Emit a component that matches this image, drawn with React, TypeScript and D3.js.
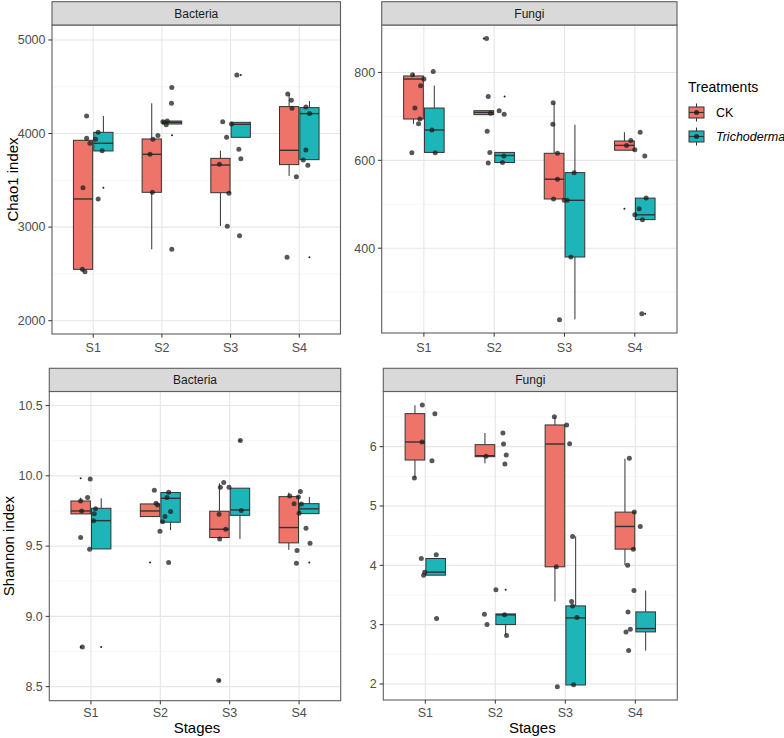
import React from 'react';
import * as d3 from 'd3';

// ---------- data ----------
const stages = ['S1', 'S2', 'S3', 'S4'];
const treatments = ['CK', 'Trichoderma'];
const treatmentFills = ['#EE746A', '#1DB5B8'];

// Box statistics per stage: [lower whisker, Q1, median, Q3, upper whisker]
const chaoBacCK = [[2524, 2549, 3301, 3928, 3928], [2763, 3372, 3778, 3942, 4323], [3012, 3368, 3664, 3735, 3817], [3547, 3668, 3821, 4288, 4420]];
const chaoBacTR = [[3814, 3814, 3896, 4013, 4188], [4102, 4102, 4120, 4134, 4134], [3960, 3960, 4099, 4120, 4120], [3721, 3721, 4213, 4277, 4348]];
const chaoBacOutCK = [[], [], [], []];
const chaoBacOutTR = [[3422], [3981], [4626], [2677]];
const chaoBacPtVal = [
  [4188, 3949, 3896, 3938, 3422, 2549, 2524, 4013, 3817, 3301],
  [3778, 3372, 3978, 3938, 4491, 4323, 4127, 4134, 4095, 2763],
  [4127, 3960, 3671, 3361, 3009, 2909, 3832, 3732, 4626, 4102],
  [4423, 4355, 4270, 3539, 2677, 4284, 4213, 3824, 3718, 3660],
];
const chaoBacPtJit = [
  [-0.096, -0.096, -0.048, 0.034, -0.149, -0.159, -0.12, 0.072, 0.13, 0.072],
  [-0.173, -0.139, -0.058, -0.13, 0.144, 0.139, 0.014, 0.077, 0.063, 0.144],
  [-0.115, -0.058, -0.163, -0.024, -0.048, 0.13, 0.12, 0.149, 0.091, 0.014],
  [-0.168, -0.115, -0.106, -0.043, -0.178, 0.096, 0.149, 0.096, 0.058, 0.125],
];

const chaoFunCK = [[683, 694, 785, 792, 797], [704, 704, 709, 713, 713], [512, 512, 557, 616, 731], [623, 623, 634, 644, 664]];
const chaoFunTR = [[618, 618, 669, 719, 770], [595, 595, 611, 618, 618], [238, 380, 509, 572, 681], [465, 465, 476, 514, 514]];
const chaoFunOutCK = [[], [877], [], [490]];
const chaoFunOutTR = [[], [745], [], [251]];
const chaoFunPtVal = [
  [795, 785, 770, 719, 694, 683, 617, 802, 669, 617],
  [877, 745, 666, 707, 713, 705, 618, 594, 610, 595],
  [731, 682, 616, 557, 512, 509, 509, 572, 380, 237],
  [645, 634, 624, 664, 610, 514, 490, 476, 465, 251],
];
const chaoFunPtJit = [
  [-0.161, 0, -0.047, -0.128, -0.057, -0.076, -0.171, 0.133, 0.114, 0.161],
  [-0.109, -0.085, -0.1, -0.052, 0.071, 0.142, -0.062, -0.085, 0.137, 0.118],
  [-0.161, -0.166, -0.1, -0.1, -0.156, -0.005, 0.038, 0.137, 0.09, -0.071],
  [-0.057, -0.118, 0, 0.076, 0.142, 0.161, 0.062, 0, 0.109, 0.1],
];

const shanBacCK = [[9.729, 9.729, 9.75, 9.821, 9.845], [9.71, 9.71, 9.75, 9.8, 9.8], [9.551, 9.561, 9.62, 9.748, 9.947], [9.473, 9.523, 9.632, 9.852, 9.881]];
const shanBacTR = [[9.48, 9.48, 9.681, 9.769, 9.84], [9.613, 9.67, 9.84, 9.881, 9.889], [9.551, 9.719, 9.757, 9.912, 9.912], [9.731, 9.731, 9.765, 9.802, 9.85]];
const shanBacOutCK = [[9.983, 8.782], [9.383], [8.543], []];
const shanBacOutTR = [[8.782], [], [10.251], [9.383]];
const shanBacPtVal = [
  [9.978, 9.845, 9.821, 9.75, 9.765, 9.731, 9.681, 9.561, 9.477, 8.782],
  [9.897, 9.805, 9.793, 9.845, 9.883, 9.746, 9.71, 9.674, 9.606, 9.383],
  [9.952, 9.919, 9.919, 9.727, 9.62, 9.551, 8.543, 10.251, 9.753],
  [9.857, 9.888, 9.85, 9.802, 9.8, 9.734, 9.627, 9.52, 9.468, 9.378],
];
const shanBacPtJit = [
  [-0.01, -0.048, -0.148, -0.134, 0.067, 0.048, 0.038, -0.148, -0.019, -0.124],
  [-0.086, -0.062, -0.038, 0.096, 0.12, 0.148, 0.067, 0.033, -0.005, 0.12],
  [-0.086, -0.134, -0.01, -0.153, -0.057, -0.144, -0.158, 0.153, 0.167],
  [-0.134, 0.019, -0.01, -0.072, 0.033, 0, 0.1, 0.158, -0.029, -0.038],
];

const shanFunCK = [[5.471, 5.775, 6.079, 6.557, 6.698], [5.719, 5.831, 5.848, 6.034, 6.231], [3.39, 3.975, 6.045, 6.366, 6.506], [4.003, 4.273, 4.655, 4.897, 5.797]];
const shanFunTR = [[3.834, 3.834, 3.885, 4.115, 4.115], [2.827, 3.001, 3.165, 3.181, 3.181], [1.983, 1.983, 3.114, 3.316, 4.487], [2.563, 2.878, 2.934, 3.215, 3.575]];
const shanFunOutCK = [[], [], [], []];
const shanFunOutTR = [[], [3.587], [], []];
const shanFunPtVal = [
  [6.703, 6.557, 6.079, 5.764, 5.471, 4.115, 4.177, 3.885, 3.834, 3.103],
  [5.837, 6.231, 6.045, 5.859, 5.707, 3.587, 3.176, 3.001, 3.165, 2.816],
  [6.506, 6.366, 6.051, 3.975, 4.487, 3.39, 3.316, 3.12, 1.989, 1.955],
  [5.803, 4.897, 4.655, 4.273, 4.003, 3.575, 3.215, 2.922, 2.878, 2.563],
];
const shanFunPtJit = [
  [-0.043, 0.137, -0.047, 0.095, -0.156, -0.057, 0.156, -0.009, -0.024, 0.161],
  [-0.133, 0.109, 0.118, 0.156, 0.137, 0.009, -0.156, -0.118, 0.133, 0.161],
  [-0.156, 0.019, 0.062, -0.128, 0.104, 0.09, 0.104, 0.166, 0.118, -0.114],
  [-0.085, -0.014, 0.071, -0.028, -0.109, -0.019, -0.104, -0.071, -0.133, -0.095],
];

// axis limits and ticks
const chaoBacLimits = [1858, 5160];
const chaoBacTicks = [2000, 3000, 4000, 5000];
const chaoFunLimits = [207, 908];
const chaoFunTicks = [400, 600, 800];
const shanBacLimits = [8.4, 10.6];
const shanBacTicks = [8.5, 9.0, 9.5, 10.0, 10.5];
const shanFunLimits = [1.73, 6.93];
const shanFunTicks = [2, 3, 4, 5, 6];

const facetLabels = ['Bacteria', 'Fungi'];
const yTitles = ['Chao1 index', 'Shannon index'];
const xTitle = 'Stages';
const legendTitle = 'Treatments';

// ---------- layout ----------
const FONT = "'Liberation Sans', Arial, Helvetica, sans-serif";
const panels = [
  { strip: facetLabels[0], left: 52, right: 340.5, stripTop: 1.7, top: 25, bottom: 334, limits: chaoBacLimits, ticks: chaoBacTicks, fmt: (v: number) => String(v), boxes: [chaoBacCK, chaoBacTR], outs: [chaoBacOutCK, chaoBacOutTR], ptVal: chaoBacPtVal, ptJit: chaoBacPtJit, yTitle: yTitles[0], yTitleX: 18, xTitle: false, tickLabelY: 351.5 },
  { strip: facetLabels[1], left: 381.7, right: 677, stripTop: 1.7, top: 25, bottom: 333, limits: chaoFunLimits, ticks: chaoFunTicks, fmt: (v: number) => String(v), boxes: [chaoFunCK, chaoFunTR], outs: [chaoFunOutCK, chaoFunOutTR], ptVal: chaoFunPtVal, ptJit: chaoFunPtJit, yTitle: null, yTitleX: 0, xTitle: false, tickLabelY: 351.5 },
  { strip: facetLabels[0], left: 49.3, right: 340.7, stripTop: 368.3, top: 391.5, bottom: 700.7, limits: shanBacLimits, ticks: shanBacTicks, fmt: (v: number) => v.toFixed(1), boxes: [shanBacCK, shanBacTR], outs: [shanBacOutCK, shanBacOutTR], ptVal: shanBacPtVal, ptJit: shanBacPtJit, yTitle: yTitles[1], yTitleX: 13.5, xTitle: true, tickLabelY: 716.5 },
  { strip: facetLabels[1], left: 383.3, right: 677.3, stripTop: 368.3, top: 391.5, bottom: 700, limits: shanFunLimits, ticks: shanFunTicks, fmt: (v: number) => String(v), boxes: [shanFunCK, shanFunTR], outs: [shanFunOutCK, shanFunOutTR], ptVal: shanFunPtVal, ptJit: shanFunPtJit, yTitle: null, yTitleX: 0, xTitle: true, tickLabelY: 716.5 },
];

const BOX_W = 0.28;
const DODGE = 0.148;
const BORDER = '#5e5e5e';
const LINE = '#333333';

function Panel({ p }: { p: any }) {
  const x = d3.scaleLinear().domain([0.4, stages.length + 0.6]).range([p.left, p.right]);
  const y = d3.scaleLinear().domain(p.limits).range([p.bottom, p.top]);
  const step = p.ticks[1] - p.ticks[0];
  const minor: number[] = [];
  for (let i = -1; i < p.ticks.length; i++) {
    const v = p.ticks[0] + step * (i + 0.5);
    if (v > p.limits[0] && v < p.limits[1]) minor.push(v);
  }
  const unit = x(2) - x(1);
  return (
    <g>
      <rect x={p.left} y={p.top} width={p.right - p.left} height={p.bottom - p.top} fill="#fff" />
      {minor.map((v) => (
        <line key={'mn' + v} x1={p.left} x2={p.right} y1={y(v)} y2={y(v)} stroke="#F2F2F2" strokeWidth={0.7} />
      ))}
      {p.ticks.map((v: number) => (
        <line key={'mj' + v} x1={p.left} x2={p.right} y1={y(v)} y2={y(v)} stroke="#E6E6E6" strokeWidth={1.1} />
      ))}
      {stages.map((s, i) => (
        <line key={'gx' + s} x1={x(i + 1)} x2={x(i + 1)} y1={p.top} y2={p.bottom} stroke="#E6E6E6" strokeWidth={1.1} />
      ))}
      {/* boxes */}
      {stages.map((s, i) =>
        treatments.map((t, k) => {
          const [lw, q1, med, q3, uw] = p.boxes[k][i];
          const cx = x(i + 1 + (k === 0 ? -DODGE : DODGE));
          const hw = (BOX_W * unit) / 2;
          return (
            <g key={s + t}>
              <line x1={cx} x2={cx} y1={y(uw)} y2={y(q3)} stroke={LINE} strokeWidth={1} />
              <line x1={cx} x2={cx} y1={y(q1)} y2={y(lw)} stroke={LINE} strokeWidth={1} />
              <rect x={cx - hw} y={y(q3)} width={2 * hw} height={Math.max(0.5, y(q1) - y(q3))} fill={treatmentFills[k]} stroke={LINE} strokeWidth={1} />
              <line x1={cx - hw} x2={cx + hw} y1={y(med)} y2={y(med)} stroke={LINE} strokeWidth={1.4} />
              {p.outs[k][i].map((v: number, j: number) => (
                <circle key={j} cx={cx} cy={y(v)} r={1} fill="#222" />
              ))}
            </g>
          );
        })
      )}
      {/* jittered points */}
      {stages.map((s, i) =>
        p.ptVal[i].map((v: number, j: number) => (
          <circle key={s + 'p' + j} cx={x(i + 1 + p.ptJit[i][j])} cy={y(v)} r={2.5} fill="#1f1f1f" fillOpacity={0.75} />
        ))
      )}
      <rect x={p.left} y={p.top} width={p.right - p.left} height={p.bottom - p.top} fill="none" stroke={BORDER} strokeWidth={1.1} />
      {/* strip */}
      <rect x={p.left} y={p.stripTop} width={p.right - p.left} height={p.top - p.stripTop} fill="#D9D9D9" stroke={BORDER} strokeWidth={1.1} />
      <text x={(p.left + p.right) / 2} y={(p.stripTop + p.top) / 2 + 4.2} textAnchor="middle" fontSize={12} fill="#1A1A1A" fontFamily={FONT}>{p.strip}</text>
      {/* y axis */}
      {p.ticks.map((v: number) => (
        <g key={'yt' + v}>
          <line x1={p.left - 3.7} x2={p.left} y1={y(v)} y2={y(v)} stroke={LINE} strokeWidth={1} />
          <text x={p.left - 6.5} y={y(v) + 4.3} textAnchor="end" fontSize={12.5} fill="#4D4D4D" fontFamily={FONT}>{p.fmt(v)}</text>
        </g>
      ))}
      {/* x axis */}
      {stages.map((s, i) => (
        <g key={'xt' + s}>
          <line x1={x(i + 1)} x2={x(i + 1)} y1={p.bottom} y2={p.bottom + 3.7} stroke={LINE} strokeWidth={1} />
          <text x={x(i + 1)} y={p.tickLabelY} textAnchor="middle" fontSize={12.5} fill="#4D4D4D" fontFamily={FONT}>{s}</text>
        </g>
      ))}
      {p.yTitle && (
        <text transform={`translate(${p.yTitleX},${(p.top + p.bottom) / 2}) rotate(-90)`} textAnchor="middle" fontSize={15} fill="#000" fontFamily={FONT}>{p.yTitle}</text>
      )}
      {p.xTitle && (
        <text x={(p.left + p.right) / 2 + 2} y={732.5} textAnchor="middle" fontSize={15} fill="#000" fontFamily={FONT}>{xTitle}</text>
      )}
    </g>
  );
}

function Legend() {
  const kx = 689;
  const kw = 15;
  const centers = [112.5, 136.5];
  return (
    <g>
      <text x={688} y={92} fontSize={14} fill="#000" fontFamily={FONT}>{legendTitle}</text>
      {treatments.map((t, k) => {
        const cy = centers[k];
        const cx = kx + kw / 2;
        return (
          <g key={t}>
            <line x1={cx} x2={cx} y1={cy - 9} y2={cy + 9} stroke={LINE} strokeWidth={1} />
            <rect x={kx} y={cy - 5.5} width={kw} height={11} fill={treatmentFills[k]} stroke={LINE} strokeWidth={1} />
            <line x1={kx} x2={kx + kw} y1={cy} y2={cy} stroke={LINE} strokeWidth={1.2} />
            <circle cx={cx} cy={cy} r={2.5} fill="#1f1f1f" fillOpacity={0.85} />
            <text x={716} y={cy + 4.4} fontSize={12.5} fill="#000" fontStyle={k === 1 ? 'italic' : 'normal'} fontFamily={FONT}>{t}</text>
          </g>
        );
      })}
    </g>
  );
}

export default function App() {
  return (
    <svg width={784} height={738} style={{ position: 'absolute', left: 0, top: 0, background: '#fff' }}>
      <rect width={784} height={738} fill="#fff" />
      {panels.map((p, i) => (
        <Panel key={i} p={p} />
      ))}
      <Legend />
    </svg>
  );
}
